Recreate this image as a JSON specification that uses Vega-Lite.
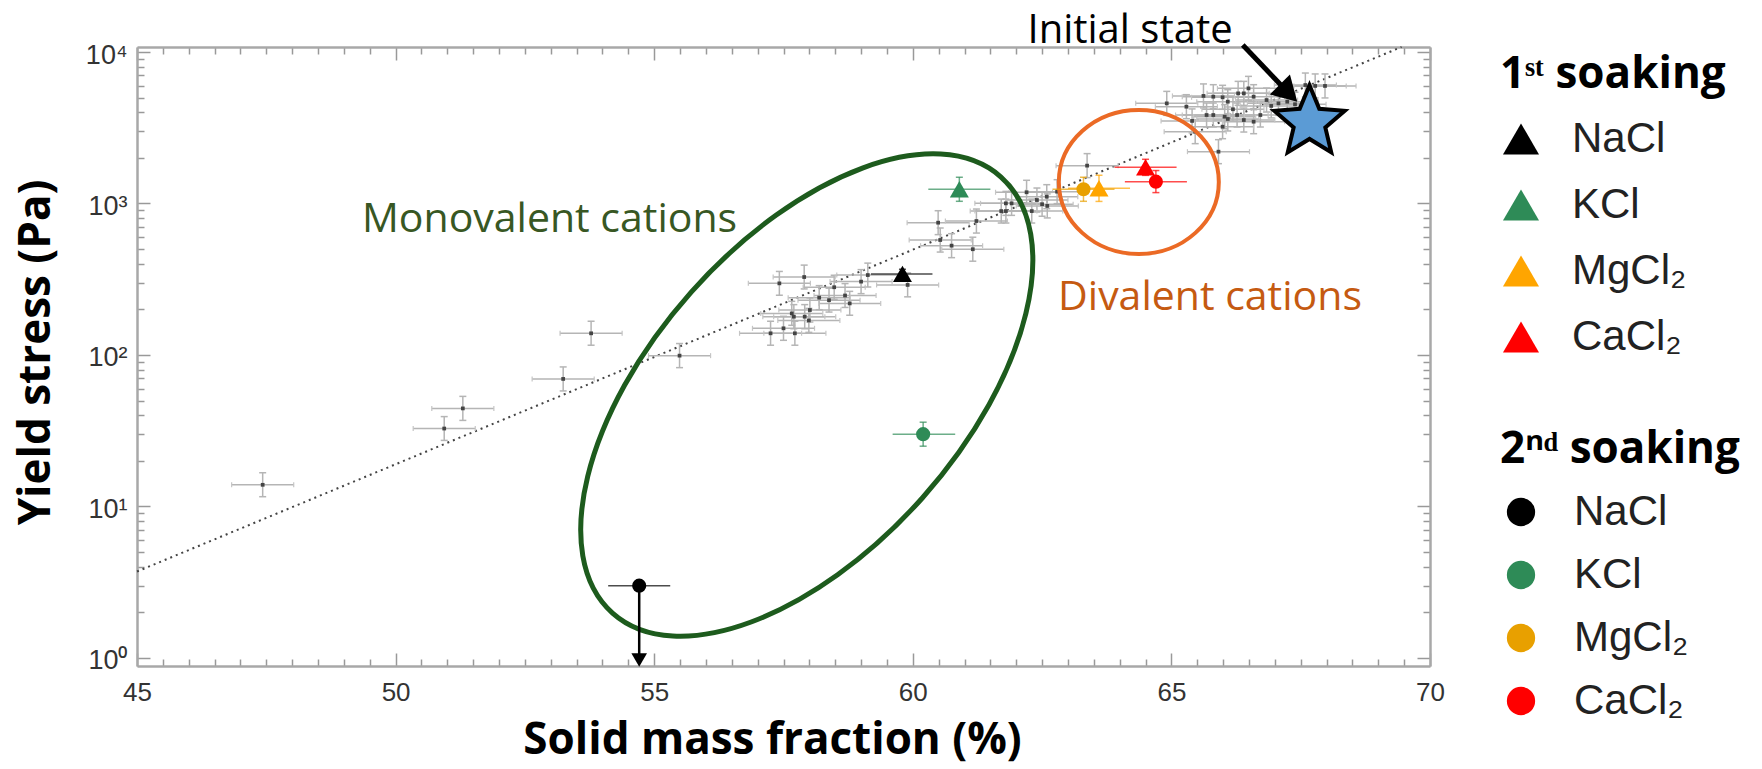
{
  "$schema": "https://vega.github.io/schema/vega-lite/v6.json",
  "autosize": {"type": "none"},
  "width": 1293,
  "height": 619,
  "padding": {"left": 137, "top": 47, "right": 332, "bottom": 103},
  "background": "white",
  "config": {
    "view": {"stroke": null},
    "legend": {"labelLimit": 0, "titleLimit": 0, "padding": 0},
    "axis": {"labelLimit": 0},
    "point": {"opacity": 1}
  },
  "datasets": {
    "fit": [{"x": 45, "y": 3.72}, {"x": 69.45, "y": 10790}],
    "gray": [
      {"x":47.43,"y":13.9,"xlo":46.83,"xhi":48.03,"ylo":11.6,"yhi":16.7},
      {"x":50.94,"y":32.7,"xlo":50.34,"xhi":51.54,"ylo":27.3,"yhi":39.2},
      {"x":51.30,"y":44.4,"xlo":50.70,"xhi":51.90,"ylo":37.0,"yhi":53.3},
      {"x":53.24,"y":69.5,"xlo":52.64,"xhi":53.84,"ylo":57.9,"yhi":83.4},
      {"x":53.78,"y":139,"xlo":53.18,"xhi":54.38,"ylo":116,"yhi":167},
      {"x":55.49,"y":99,"xlo":54.89,"xhi":56.09,"ylo":82.5,"yhi":119},
      {"x":57.25,"y":139,"xlo":56.65,"xhi":57.85,"ylo":116,"yhi":167},
      {"x":57.50,"y":150,"xlo":56.90,"xhi":58.10,"ylo":125,"yhi":180},
      {"x":57.72,"y":139,"xlo":57.12,"xhi":58.32,"ylo":116,"yhi":167},
      {"x":57.66,"y":188,"xlo":57.06,"xhi":58.26,"ylo":157,"yhi":226},
      {"x":57.70,"y":179,"xlo":57.10,"xhi":58.30,"ylo":149,"yhi":215},
      {"x":57.91,"y":179,"xlo":57.31,"xhi":58.51,"ylo":149,"yhi":215},
      {"x":57.99,"y":169,"xlo":57.39,"xhi":58.59,"ylo":141,"yhi":203},
      {"x":58.01,"y":198,"xlo":57.41,"xhi":58.61,"ylo":165,"yhi":238},
      {"x":58.19,"y":239,"xlo":57.59,"xhi":58.79,"ylo":199,"yhi":287},
      {"x":58.38,"y":230,"xlo":57.78,"xhi":58.98,"ylo":192,"yhi":276},
      {"x":58.48,"y":280,"xlo":57.88,"xhi":59.08,"ylo":233,"yhi":336},
      {"x":58.69,"y":247,"xlo":58.09,"xhi":59.29,"ylo":206,"yhi":296},
      {"x":58.78,"y":219,"xlo":58.18,"xhi":59.38,"ylo":183,"yhi":263},
      {"x":59.00,"y":305,"xlo":58.40,"xhi":59.60,"ylo":254,"yhi":366},
      {"x":59.13,"y":337,"xlo":58.53,"xhi":59.73,"ylo":281,"yhi":404},
      {"x":57.42,"y":297,"xlo":56.82,"xhi":58.02,"ylo":248,"yhi":356},
      {"x":57.90,"y":327,"xlo":57.30,"xhi":58.50,"ylo":273,"yhi":392},
      {"x":59.90,"y":290,"xlo":59.30,"xhi":60.50,"ylo":242,"yhi":348},
      {"x":60.49,"y":747,"xlo":59.89,"xhi":61.09,"ylo":623,"yhi":896},
      {"x":61.23,"y":766,"xlo":60.63,"xhi":61.83,"ylo":638,"yhi":919},
      {"x":60.53,"y":574,"xlo":59.93,"xhi":61.13,"ylo":478,"yhi":689},
      {"x":60.75,"y":527,"xlo":60.15,"xhi":61.35,"ylo":439,"yhi":632},
      {"x":61.16,"y":499,"xlo":60.56,"xhi":61.76,"ylo":416,"yhi":599},
      {"x":61.71,"y":891,"xlo":61.11,"xhi":62.31,"ylo":743,"yhi":1069},
      {"x":61.80,"y":1002,"xlo":61.20,"xhi":62.40,"ylo":835,"yhi":1202},
      {"x":61.91,"y":1002,"xlo":61.31,"xhi":62.51,"ylo":835,"yhi":1202},
      {"x":61.80,"y":891,"xlo":61.20,"xhi":62.40,"ylo":743,"yhi":1069},
      {"x":62.20,"y":1186,"xlo":61.60,"xhi":62.80,"ylo":988,"yhi":1423},
      {"x":62.30,"y":891,"xlo":61.70,"xhi":62.90,"ylo":743,"yhi":1069},
      {"x":62.40,"y":1054,"xlo":61.80,"xhi":63.00,"ylo":878,"yhi":1265},
      {"x":62.50,"y":989,"xlo":61.90,"xhi":63.10,"ylo":824,"yhi":1187},
      {"x":62.60,"y":964,"xlo":62.00,"xhi":63.20,"ylo":803,"yhi":1157},
      {"x":62.79,"y":1197,"xlo":62.19,"xhi":63.39,"ylo":998,"yhi":1436},
      {"x":62.59,"y":1109,"xlo":61.99,"xhi":63.19,"ylo":924,"yhi":1331},
      {"x":63.37,"y":1778,"xlo":62.77,"xhi":63.97,"ylo":1482,"yhi":2134},
      {"x":64.91,"y":4581,"xlo":64.31,"xhi":65.51,"ylo":3818,"yhi":5497},
      {"x":65.40,"y":3508,"xlo":64.80,"xhi":66.00,"ylo":2923,"yhi":4210},
      {"x":65.46,"y":2979,"xlo":64.86,"xhi":66.06,"ylo":2483,"yhi":3575},
      {"x":65.91,"y":2198,"xlo":65.31,"xhi":66.51,"ylo":1832,"yhi":2638},
      {"x":65.62,"y":5129,"xlo":65.02,"xhi":66.22,"ylo":4274,"yhi":6155},
      {"x":65.81,"y":5070,"xlo":65.21,"xhi":66.41,"ylo":4225,"yhi":6084},
      {"x":65.99,"y":5023,"xlo":65.39,"xhi":66.59,"ylo":4186,"yhi":6028},
      {"x":66.09,"y":4699,"xlo":65.49,"xhi":66.69,"ylo":3916,"yhi":5639},
      {"x":65.68,"y":3837,"xlo":65.08,"xhi":66.28,"ylo":3198,"yhi":4604},
      {"x":65.81,"y":3837,"xlo":65.21,"xhi":66.41,"ylo":3198,"yhi":4604},
      {"x":66.03,"y":3741,"xlo":65.43,"xhi":66.63,"ylo":3118,"yhi":4489},
      {"x":66.09,"y":3614,"xlo":65.49,"xhi":66.69,"ylo":3012,"yhi":4337},
      {"x":65.99,"y":3214,"xlo":65.39,"xhi":66.59,"ylo":2678,"yhi":3857},
      {"x":66.29,"y":5333,"xlo":65.69,"xhi":66.89,"ylo":4444,"yhi":6400},
      {"x":66.40,"y":5333,"xlo":65.80,"xhi":67.00,"ylo":4444,"yhi":6400},
      {"x":66.49,"y":5754,"xlo":65.89,"xhi":67.09,"ylo":4795,"yhi":6905},
      {"x":66.19,"y":4188,"xlo":65.59,"xhi":66.79,"ylo":3490,"yhi":5026},
      {"x":66.27,"y":3837,"xlo":65.67,"xhi":66.87,"ylo":3198,"yhi":4604},
      {"x":66.40,"y":3556,"xlo":65.80,"xhi":67.00,"ylo":2963,"yhi":4267},
      {"x":66.59,"y":3467,"xlo":65.99,"xhi":67.19,"ylo":2889,"yhi":4160},
      {"x":66.72,"y":3837,"xlo":66.12,"xhi":67.32,"ylo":3198,"yhi":4604},
      {"x":66.93,"y":4406,"xlo":66.33,"xhi":67.53,"ylo":3672,"yhi":5287},
      {"x":67.07,"y":4581,"xlo":66.47,"xhi":67.67,"ylo":3818,"yhi":5497},
      {"x":67.24,"y":4699,"xlo":66.64,"xhi":67.84,"ylo":3916,"yhi":5639},
      {"x":67.39,"y":4519,"xlo":66.79,"xhi":67.99,"ylo":3766,"yhi":5423},
      {"x":67.59,"y":6053,"xlo":66.99,"xhi":68.19,"ylo":5044,"yhi":7264},
      {"x":67.78,"y":5970,"xlo":67.18,"xhi":68.38,"ylo":4975,"yhi":7164},
      {"x":67.97,"y":5970,"xlo":67.37,"xhi":68.57,"ylo":4975,"yhi":7164},
      {"x":66.59,"y":5070,"xlo":65.99,"xhi":67.19,"ylo":4225,"yhi":6084},
      {"x":66.84,"y":4819,"xlo":66.24,"xhi":67.44,"ylo":4016,"yhi":5783},
      {"x":65.29,"y":4355,"xlo":64.69,"xhi":65.89,"ylo":3629,"yhi":5226}
    ],
    "colored": [
      {"soak":1,"first":"NaCl","key":"1 NaCl","x":59.80,"y":343,"xlo":59.19,"xhi":60.38,"ylo":320,"yhi":368},
      {"soak":1,"first":"KCl","key":"1 KCl","x":60.90,"y":1241,"xlo":60.30,"xhi":61.50,"ylo":1034,"yhi":1490},
      {"soak":1,"first":"MgCl₂","key":"1 MgCl₂","x":63.60,"y":1259,"xlo":63.00,"xhi":64.20,"ylo":1032,"yhi":1536},
      {"soak":1,"first":"CaCl₂","key":"1 CaCl₂","x":64.50,"y":1733,"xlo":63.90,"xhi":65.10,"ylo":1533,"yhi":1958},
      {"soak":2,"second":"NaCl ","key":"2 NaCl","x":54.71,"y":3.0,"xlo":54.11,"xhi":55.31,"ylo":3.0,"yhi":3.0},
      {"soak":2,"second":"KCl ","key":"2 KCl","x":60.20,"y":30.0,"xlo":59.61,"xhi":60.82,"ylo":25,"yhi":36},
      {"soak":2,"second":"MgCl₂ ","key":"2 MgCl₂","x":63.30,"y":1241,"xlo":62.70,"xhi":63.90,"ylo":1034,"yhi":1490},
      {"soak":2,"second":"CaCl₂ ","key":"2 CaCl₂","x":64.70,"y":1393,"xlo":64.10,"xhi":65.30,"ylo":1180,"yhi":1650}
    ]
  },
  "encoding": {
    "x": {"field": "x", "type": "quantitative", "scale": {"domain": [45, 70], "nice": false, "zero": false}, "axis": null},
    "y": {"field": "y", "type": "quantitative", "scale": {"type": "log", "domain": [0.885, 10790], "nice": false}, "axis": null}
  },
  "layer": [
    {
      "data": {"name": "fit"},
      "mark": {"type": "line", "color": "#444", "strokeWidth": 2, "strokeDash": [2, 4]},
      "encoding": {
        "x": {"field": "x", "type": "quantitative", "axis": {
          "orient": "top", "title": null, "labels": false, "grid": false,
          "values": [45,45.5,46,46.5,47,47.5,48,48.5,49,49.5,50,50.5,51,51.5,52,52.5,53,53.5,54,54.5,55,55.5,56,56.5,57,57.5,58,58.5,59,59.5,60,60.5,61,61.5,62,62.5,63,63.5,64,64.5,65,65.5,66,66.5,67,67.5,68,68.5,69,69.5,70],
          "tickSize": {"condition": {"test": "datum.value % 5 === 0", "value": -13}, "value": -7},
          "tickColor": "#999", "tickWidth": 1.5, "domainColor": "#a8a8a8", "domainWidth": 2.5
        }},
        "y": {"field": "y", "type": "quantitative", "axis": {
          "orient": "right", "title": null, "labels": false, "grid": false,
          "values": [1,2,3,4,5,6,7,8,9,10,20,30,40,50,60,70,80,90,100,200,300,400,500,600,700,800,900,1000,2000,3000,4000,5000,6000,7000,8000,9000,10000],
          "tickSize": {"condition": {"test": "datum.value === 1 || datum.value === 10 || datum.value === 100 || datum.value === 1000 || datum.value === 10000", "value": -13}, "value": -7},
          "tickColor": "#999", "tickWidth": 1.5, "domainColor": "#a8a8a8", "domainWidth": 2.5
        }}
      }
    },
    {
      "data": {"name": "gray"},
      "mark": {"type": "rule", "color": "#b5b5b5", "strokeWidth": 1.5},
      "encoding": {"x": {"field": "xlo", "type": "quantitative", "axis": null}, "x2": {"field": "xhi"}}
    },
    {
      "data": {"name": "gray"},
      "mark": {"type": "rule", "color": "#b5b5b5", "strokeWidth": 1.5},
      "encoding": {"y": {"field": "ylo", "type": "quantitative", "axis": null}, "y2": {"field": "yhi"}}
    },
    {
      "data": {"name": "gray"},
      "mark": {"type": "point", "shape": "stroke", "filled": false, "color": "#b5b5b5", "strokeWidth": 1.5, "size": 49, "opacity": 1},
      "encoding": {"y": {"field": "ylo", "type": "quantitative", "axis": null}}
    },
    {
      "data": {"name": "gray"},
      "mark": {"type": "point", "shape": "stroke", "filled": false, "color": "#b5b5b5", "strokeWidth": 1.5, "size": 49, "opacity": 1},
      "encoding": {"y": {"field": "yhi", "type": "quantitative", "axis": null}}
    },
    {
      "data": {"name": "gray"},
      "mark": {"type": "point", "shape": "stroke", "angle": 90, "filled": false, "color": "#c5c5c5", "strokeWidth": 1.2, "size": 25, "opacity": 1},
      "encoding": {"x": {"field": "xlo", "type": "quantitative", "axis": null}}
    },
    {
      "data": {"name": "gray"},
      "mark": {"type": "point", "shape": "stroke", "angle": 90, "filled": false, "color": "#c5c5c5", "strokeWidth": 1.2, "size": 25, "opacity": 1},
      "encoding": {"x": {"field": "xhi", "type": "quantitative", "axis": null}}
    },
    {
      "data": {"name": "gray"},
      "mark": {"type": "point", "shape": "square", "filled": true, "color": "#444", "size": 14, "opacity": 1},
      "encoding": {
        "x": {"field": "x", "type": "quantitative", "axis": {
          "orient": "bottom", "grid": false,
          "values": [45,45.5,46,46.5,47,47.5,48,48.5,49,49.5,50,50.5,51,51.5,52,52.5,53,53.5,54,54.5,55,55.5,56,56.5,57,57.5,58,58.5,59,59.5,60,60.5,61,61.5,62,62.5,63,63.5,64,64.5,65,65.5,66,66.5,67,67.5,68,68.5,69,69.5,70],
          "labelExpr": "datum.value % 5 === 0 ? format(datum.value, 'd') : ''",
          "tickSize": {"condition": {"test": "datum.value % 5 === 0", "value": -13}, "value": -7},
          "tickColor": "#999", "tickWidth": 1.5, "domainColor": "#a8a8a8", "domainWidth": 2.5,
          "labelFont": "Liberation Sans", "labelFontSize": 26, "labelColor": "#333",
          "labelPadding": 26, "labelFlush": false, "labelOverlap": false,
          "title": "Solid mass fraction (%)", "titleFont": "Open Sans", "titleFontSize": 44, "titleFontWeight": "bold", "titleColor": "#000",
          "titleX": 635, "titleY": 87, "titleAlign": "center", "titleBaseline": "alphabetic"
        }},
        "y": {"field": "y", "type": "quantitative", "axis": {
          "orient": "left", "grid": false,
          "values": [1,2,3,4,5,6,7,8,9,10,20,30,40,50,60,70,80,90,100,200,300,400,500,600,700,800,900,1000,2000,3000,4000,5000,6000,7000,8000,9000,10000],
          "labelExpr": "datum.value === 1 ? '10⁰' : datum.value === 10 ? '10¹' : datum.value === 100 ? '10²' : datum.value === 1000 ? '10³' : datum.value === 10000 ? '10⁴' : ''",
          "tickSize": {"condition": {"test": "datum.value === 1 || datum.value === 10 || datum.value === 100 || datum.value === 1000 || datum.value === 10000", "value": -13}, "value": -7},
          "tickColor": "#999", "tickWidth": 1.5, "domainColor": "#a8a8a8", "domainWidth": 2.5,
          "labelFont": "Liberation Sans", "labelFontSize": 27, "labelColor": "#333",
          "labelPadding": 23, "labelBaseline": "middle", "labelOffset": 3, "labelOverlap": false,
          "title": "Yield stress (Pa)", "titleFont": "Open Sans", "titleFontSize": 44, "titleFontWeight": "bold", "titleColor": "#000",
          "titleX": -88, "titleY": 305, "titleAngle": 270, "titleAlign": "center", "titleBaseline": "alphabetic"
        }}
      }
    },
    {
      "data": {"values": [{"x": 57.95, "y": 54.4}]},
      "mark": {"type": "point", "filled": false, "stroke": "#1D5B1D", "strokeWidth": 5, "size": 341056, "angle": 311.7, "opacity": 1,
        "shape": "M 1 0 C 1 0.2927 0.5523 0.53 0 0.53 C -0.5523 0.53 -1 0.2927 -1 0 C -1 -0.2927 -0.5523 -0.53 0 -0.53 C 0.5523 -0.53 1 -0.2927 1 0 Z"}
    },
    {
      "data": {"values": [{"x": 64.37, "y": 1387}]},
      "mark": {"type": "point", "filled": false, "stroke": "#EB6A25", "strokeWidth": 4, "size": 25600, "opacity": 1,
        "shape": "M 1 0 C 1 0.4971 0.5523 0.9 0 0.9 C -0.5523 0.9 -1 0.4971 -1 0 C -1 -0.4971 -0.5523 -0.9 0 -0.9 C 0.5523 -0.9 1 -0.4971 1 0 Z"}
    },
    {
      "data": {"name": "colored"},
      "mark": {"type": "rule", "strokeWidth": 1.5, "opacity": 0.7},
      "encoding": {
        "x": {"field": "xlo", "type": "quantitative", "axis": null}, "x2": {"field": "xhi"},
        "stroke": {"field": "key", "type": "nominal", "legend": null, "scale": {
          "domain": ["1 NaCl","1 KCl","1 MgCl₂","1 CaCl₂","2 NaCl","2 KCl","2 MgCl₂","2 CaCl₂"],
          "range": ["#000000","#2E8B57","#FFA500","#FF0000","#000000","#2E8B57","#E8A000","#FF0000"]}}
      }
    },
    {
      "data": {"name": "colored"},
      "mark": {"type": "rule", "strokeWidth": 1.5, "opacity": 0.7},
      "encoding": {
        "y": {"field": "ylo", "type": "quantitative", "axis": null}, "y2": {"field": "yhi"},
        "stroke": {"field": "key", "type": "nominal", "legend": null}
      }
    },
    {
      "data": {"name": "colored"},
      "mark": {"type": "point", "shape": "stroke", "filled": false, "strokeWidth": 1.5, "size": 49, "opacity": 0.7},
      "encoding": {
        "y": {"field": "ylo", "type": "quantitative", "axis": null},
        "stroke": {"field": "key", "type": "nominal", "legend": null}
      }
    },
    {
      "data": {"name": "colored"},
      "mark": {"type": "point", "shape": "stroke", "filled": false, "strokeWidth": 1.5, "size": 49, "opacity": 0.7},
      "encoding": {
        "y": {"field": "yhi", "type": "quantitative", "axis": null},
        "stroke": {"field": "key", "type": "nominal", "legend": null}
      }
    },
    {
      "data": {"name": "colored"},
      "transform": [{"filter": "datum.soak === 1"}],
      "mark": {"type": "point", "shape": "triangle-up", "filled": true, "size": 360, "opacity": 1},
      "encoding": {
        "color": {"field": "first", "type": "nominal",
          "scale": {"domain": ["NaCl","KCl","MgCl₂","CaCl₂"], "range": ["#000000","#2E8B57","#FFA500","#FF0000"]},
          "legend": {"title": "1ˢᵗ soaking", "orient": "none", "legendX": 1363, "legendY": 6,
            "symbolType": "triangle-up", "symbolSize": 1300, "symbolStrokeWidth": 0, "symbolOpacity": 1,
            "labelFont": "Liberation Sans", "labelFontSize": 42, "labelColor": "#222", "labelOffset": 30,
            "titleFont": "Open Sans", "titleFontSize": 44, "titleFontWeight": "bold", "titleColor": "#000",
            "titlePadding": 21, "rowPadding": 24}}
      }
    },
    {
      "data": {"name": "colored"},
      "transform": [{"filter": "datum.soak === 2"}],
      "mark": {"type": "point", "shape": "circle", "filled": true, "size": 200, "strokeWidth": 0, "opacity": 1},
      "encoding": {
        "fill": {"field": "second", "type": "nominal",
          "scale": {"domain": ["NaCl ","KCl ","MgCl₂ ","CaCl₂ "], "range": ["#000000","#2E8B57","#E8A000","#FF0000"]},
          "legend": {"title": "2ⁿᵈ soaking", "orient": "none", "legendX": 1363, "legendY": 381,
            "symbolType": "circle", "symbolSize": 800, "symbolStrokeWidth": 0, "symbolOpacity": 1,
            "labelFont": "Liberation Sans", "labelFontSize": 42, "labelColor": "#222", "labelOffset": 32,
            "titleFont": "Open Sans", "titleFontSize": 44, "titleFontWeight": "bold", "titleColor": "#000",
            "titlePadding": 19, "rowPadding": 21}}
      }
    },
    {
      "data": {"values": [{"x": 54.71, "y": 3.0, "y2": 0.97}]},
      "mark": {"type": "rule", "color": "#000", "strokeWidth": 2.5},
      "encoding": {"y2": {"field": "y2"}}
    },
    {
      "data": {"values": [{"x": 54.71, "y": 0.97}]},
      "mark": {"type": "point", "shape": "triangle-down", "filled": true, "color": "#000", "size": 245, "opacity": 1}
    },
    {
      "data": {"values": [{"x": 67.67, "y": 3436}]},
      "mark": {"type": "point", "filled": true, "fill": "#5B9BD5", "stroke": "#000", "strokeWidth": 4, "strokeJoin": "miter", "size": 5476, "opacity": 1,
        "shape": "M 0 -1 L 0.2645 -0.3641 L 0.9511 -0.309 L 0.428 0.1391 L 0.5878 0.809 L 0 0.45 L -0.5878 0.809 L -0.428 0.1391 L -0.9511 -0.309 L -0.2645 -0.3641 Z"}
    },
    {
      "data": {"values": [{"x": 66.38, "y": 11123, "x2": 67.266, "y2": 5355}]},
      "mark": {"type": "rule", "color": "#000", "strokeWidth": 5},
      "encoding": {"x2": {"field": "x2"}, "y2": {"field": "y2"}}
    },
    {
      "data": {"values": [{"x": 67.266, "y": 5355}]},
      "mark": {"type": "point", "shape": "triangle-up", "angle": 135, "filled": true, "color": "#000", "size": 800, "opacity": 1}
    },
    {
      "data": {"values": [{"x": 64.2, "y": 11500, "text": "Initial state"}]},
      "mark": {"type": "text", "font": "Open Sans", "fontSize": 40, "color": "#000", "align": "center", "baseline": "alphabetic"},
      "encoding": {"text": {"field": "text"}}
    },
    {
      "data": {"values": [{"x": 52.976, "y": 649, "text": "Monovalent cations"}]},
      "mark": {"type": "text", "font": "Open Sans", "fontSize": 41, "color": "#385723", "align": "center", "baseline": "alphabetic"},
      "encoding": {"text": {"field": "text"}}
    },
    {
      "data": {"values": [{"x": 65.746, "y": 198, "text": "Divalent cations"}]},
      "mark": {"type": "text", "font": "Open Sans", "fontSize": 41, "color": "#C55A11", "align": "center", "baseline": "alphabetic"},
      "encoding": {"text": {"field": "text"}}
    }
  ],
  "resolve": {"axis": {"x": "independent", "y": "independent"}}
}
